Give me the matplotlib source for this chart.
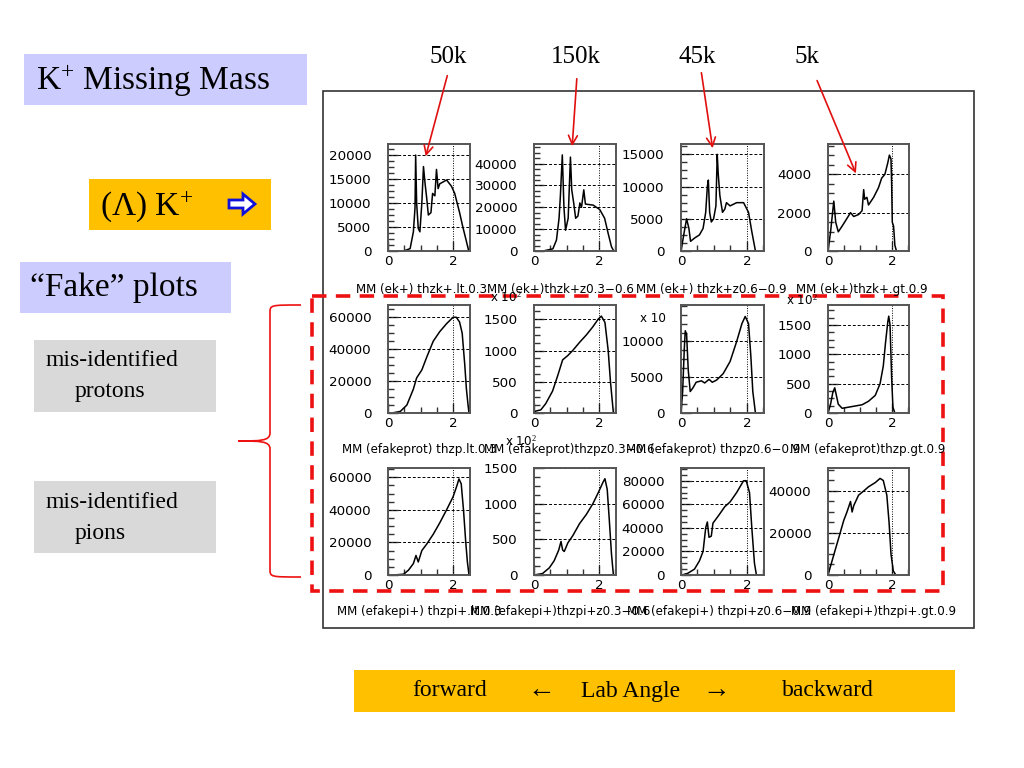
import matplotlib
matplotlib.use("Agg")
import matplotlib.pyplot as plt
from matplotlib.patches import Rectangle, Polygon, PathPatch
from matplotlib.path import Path
from matplotlib.ticker import FixedLocator, AutoMinorLocator, MultipleLocator

plt.rcParams['mathtext.fontset'] = 'custom'
plt.rcParams['mathtext.rm'] = 'Liberation Serif'
plt.rcParams['mathtext.it'] = 'Liberation Serif:italic'

W, H = 1024, 768

# ---------------- data (x = missing mass, y = counts) ----------------
# Row 1: K+ missing mass
r1c1_x = [0.48, 0.68, 0.78, 0.83, 0.85, 0.88, 0.93, 0.98, 1.04, 1.09, 1.14, 1.19, 1.24, 1.32, 1.37, 1.44, 1.49,
          1.54, 1.59, 1.80, 1.95, 2.05, 2.20, 2.30, 2.41, 2.48]
r1c1_y = [0, 500, 4000, 9000, 20000, 10000, 4700, 4000, 10000, 17600, 14000, 11000, 7500, 8000, 12000, 11500, 17000,
          13000, 14000, 14800, 13500, 12000, 8000, 5000, 2000, 0]
r1c2_x = [0.28, 0.58, 0.69, 0.77, 0.81, 0.87, 0.92, 0.97, 1.05, 1.12, 1.16, 1.22, 1.28, 1.35, 1.41, 1.46, 1.53,
          1.58, 1.82, 2.02, 2.17, 2.28, 2.38, 2.45]
r1c2_y = [0, 1000, 5000, 15000, 25000, 44000, 20000, 9500, 15000, 43000, 28000, 22000, 15000, 16000, 22000, 20000,
          28000, 21500, 21000, 19000, 15000, 8000, 2000, 0]
r1c3_x = [0.0, 0.10, 0.17, 0.24, 0.29, 0.41, 0.56, 0.67, 0.75, 0.80, 0.83, 0.87, 0.92, 0.99, 1.06, 1.10, 1.13,
          1.18, 1.26, 1.33, 1.38, 1.49, 1.69, 1.90, 2.05, 2.15, 2.26]
r1c3_y = [0, 3000, 5000, 3500, 1500, 2000, 2500, 3500, 6000, 10000, 11000, 6000, 4500, 5000, 7000, 15000, 12000,
          8600, 6000, 6500, 7500, 7000, 7500, 7500, 6000, 3000, 0]
r1c4_x = [0.0, 0.08, 0.18, 0.24, 0.32, 0.44, 0.59, 0.70, 0.80, 0.95, 1.06, 1.11, 1.14, 1.21, 1.26, 1.42, 1.57,
          1.67, 1.77, 1.86, 1.91, 1.96, 1.98, 2.00, 2.04, 2.08, 2.13]
r1c4_y = [0, 1000, 2600, 1500, 1000, 1300, 1700, 2000, 1800, 1900, 2100, 3200, 2700, 2800, 2400, 2800, 3300,
          3800, 4000, 4600, 5000, 4800, 3500, 1500, 1300, 300, 0]
# Row 2: fake K+ from mis-identified protons
r2c1_x = [0.12, 0.38, 0.58, 0.78, 0.88, 1.04, 1.19, 1.39, 1.59, 1.80, 2.00, 2.10, 2.20, 2.28, 2.36, 2.41, 2.46, 2.49]
r2c1_y = [0, 1000, 5000, 15000, 22000, 27000, 35000, 45000, 51000, 56000, 60000, 60000, 57000, 50000, 30000,
          15000, 5000, 0]
r2c2_x = [0.0, 0.05, 0.21, 0.36, 0.57, 0.73, 0.88, 1.04, 1.19, 1.40, 1.61, 1.81, 1.97, 2.07, 2.18, 2.28, 2.35, 2.44]
r2c2_y = [0, 30, 50, 150, 350, 600, 850, 920, 1000, 1130, 1250, 1380, 1500, 1550, 1450, 1000, 500, 0]
r2c3_x = [0.0, 0.05, 0.10, 0.13, 0.17, 0.22, 0.28, 0.36, 0.46, 0.62, 0.72, 0.85, 0.95, 1.08, 1.28, 1.49, 1.69,
          1.85, 1.95, 2.05, 2.12, 2.18, 2.26]
r2c3_y = [0, 3000, 9000, 11500, 11000, 6000, 3000, 3500, 4300, 4500, 4200, 4700, 4300, 4600, 5500, 7200, 10000,
          12500, 13500, 12500, 8000, 3000, 0]
r2c4_x = [0.0, 0.08, 0.15, 0.21, 0.26, 0.32, 0.44, 0.75, 1.06, 1.26, 1.47, 1.62, 1.72, 1.79, 1.86, 1.89, 1.93,
          1.98, 2.02, 2.08]
r2c4_y = [0, 150, 350, 430, 300, 150, 80, 110, 140, 200, 300, 500, 800, 1200, 1550, 1650, 1500, 600, 100, 0]
# Row 3: fake K+ from mis-identified pions
r3c1_x = [0.17, 0.48, 0.63, 0.78, 0.86, 0.93, 1.04, 1.19, 1.39, 1.59, 1.80, 2.00, 2.12, 2.18, 2.25, 2.32, 2.39,
          2.44, 2.49]
r3c1_y = [0, 500, 3000, 7000, 12000, 8000, 15000, 19000, 25000, 32000, 40000, 48000, 55000, 59000, 56000, 40000,
          20000, 8000, 0]
r3c2_x = [0.0, 0.26, 0.47, 0.62, 0.76, 0.83, 0.88, 0.93, 1.04, 1.19, 1.40, 1.61, 1.81, 1.97, 2.12, 2.18, 2.25,
          2.31, 2.38, 2.44]
r3c2_y = [0, 20, 100, 200, 350, 470, 350, 330, 450, 550, 720, 850, 1000, 1150, 1300, 1350, 1200, 800, 300, 0]
r3c3_x = [0.03, 0.21, 0.41, 0.56, 0.67, 0.75, 0.80, 0.85, 0.92, 0.97, 1.13, 1.33, 1.49, 1.69, 1.90, 1.98, 2.08,
          2.15, 2.23, 2.29]
r3c3_y = [0, 1500, 5000, 12000, 20000, 40000, 45000, 32000, 33000, 44000, 50000, 58000, 62000, 70000, 80000,
          80000, 70000, 40000, 10000, 0]
r3c4_x = [0.0, 0.15, 0.34, 0.49, 0.59, 0.70, 0.75, 0.80, 0.95, 1.11, 1.26, 1.47, 1.62, 1.72, 1.83, 1.90, 1.96,
          2.03, 2.11]
r3c4_y = [0, 8000, 18000, 26000, 30000, 35000, 30000, 33000, 38000, 40000, 42000, 44000, 46000, 45000, 38000,
          25000, 10000, 2000, 0]

panel_x = [[r1c1_x, r1c2_x, r1c3_x, r1c4_x], [r2c1_x, r2c2_x, r2c3_x, r2c4_x], [r3c1_x, r3c2_x, r3c3_x, r3c4_x]]
panel_y = [[r1c1_y, r1c2_y, r1c3_y, r1c4_y], [r2c1_y, r2c2_y, r2c3_y, r2c4_y], [r3c1_y, r3c2_y, r3c3_y, r3c4_y]]

y_ticks = [
    [[0, 5000, 10000, 15000, 20000], [0, 10000, 20000, 30000, 40000], [0, 5000, 10000, 15000], [0, 2000, 4000]],
    [[0, 20000, 40000, 60000], [0, 500, 1000, 1500], [0, 5000, 10000], [0, 500, 1000, 1500]],
    [[0, 20000, 40000, 60000], [0, 500, 1000, 1500], [0, 20000, 40000, 60000, 80000], [0, 20000, 40000]],
]
y_max = [[22300, 49000, 16600, 5580], [67700, 1728, 15100, 1840], [65700, 1500, 90800, 50950]]

row_labels = [
    ["MM (ek+) thzk+.lt.0.3", "MM (ek+)thzk+z0.3\u22120.6", "MM (ek+) thzk+z0.6\u22120.9", "MM (ek+)thzk+.gt.0.9"],
    ["MM (efakeprot) thzp.lt.0.3", "MM (efakeprot)thzpz0.3\u22120.6", "MM (efakeprot) thzpz0.6\u22120.9",
     "MM (efakeprot)thzp.gt.0.9"],
    ["MM (efakepi+) thzpi+.lt.0.3", "MM (efakepi+)thzpi+z0.3\u22120.6", "MM (efakepi+) thzpi+z0.6\u22120.9",
     "MM (efakepi+)thzpi+.gt.0.9"],
]
stat_labels = ["50k", "150k", "45k", "5k"]

# ---------------- layout (pixels) ----------------
col_lr = [(388, 470), (534, 616), (681, 764), (828, 909)]
row_tb = [(144, 251), (305, 413), (468, 575)]
label_y = [289, 449, 612]
label_x = [[356, 487, 636, 796], [342, 484, 626, 790], [337, 470, 627, 791]]

fig = plt.figure(figsize=(W / 100, H / 100), dpi=100)

for r in range(3):
    for c in range(4):
        l, rr = col_lr[c]
        t, b = row_tb[r]
        ax = fig.add_axes([l / W, 1 - b / H, (rr - l) / W, (b - t) / H])
        ax.plot(panel_x[r][c], panel_y[r][c], color='black', lw=1.1)
        ax.set_xlim(0, 2.52)
        ax.set_ylim(0, y_max[r][c])
        ax.yaxis.set_major_locator(FixedLocator(y_ticks[r][c]))
        ax.yaxis.set_minor_locator(AutoMinorLocator(4))
        ax.xaxis.set_major_locator(FixedLocator([0, 2]))
        ax.xaxis.set_minor_locator(MultipleLocator(0.5))
        ax.tick_params(which='both', direction='in', labelsize=9.7, colors='#333333', labelcolor='black')
        ax.tick_params(which='major', length=7, width=1)
        ax.tick_params(which='minor', length=4, width=1)
        ax.tick_params(axis='y', pad=12)
        ax.tick_params(axis='x', pad=3)
        for yv in y_ticks[r][c][1:]:
            ax.axhline(yv, color='black', lw=0.7, ls=(0, (3, 2)))
        ax.axvline(2, color='black', lw=0.7, ls=(0, (1, 1.5)))
        for s in ax.spines.values():
            s.set_color('#555555')
            s.set_linewidth(1.4)

# ---------------- overlay in pixel coordinates ----------------
ov = fig.add_axes([0, 0, 1, 1])
ov.set_xlim(0, W)
ov.set_ylim(H, 0)
ov.axis('off')
ov.set_zorder(10)
ov.patch.set_alpha(0)

# outer frame around the plot area
ov.add_patch(Rectangle((323, 91), 651, 537, fill=False, ec='#333333', lw=1.2))

# panel labels
for r in range(3):
    for c in range(4):
        ov.text(label_x[r][c], label_y[r], row_labels[r][c], fontsize=8.6, ha='left', va='center',
                family='DejaVu Sans')

# scale factor labels
ov.text(490, 297, r"x 10$^2$", fontsize=8.6, ha='left', va='center', family='DejaVu Sans')
ov.text(786, 300, r"x 10$^2$", fontsize=8.6, ha='left', va='center', family='DejaVu Sans')
ov.text(640, 319, "x 10", fontsize=8.6, ha='left', va='center', family='DejaVu Sans')
ov.text(505, 441, r"x 10$^2$", fontsize=8.6, ha='left', va='center', family='DejaVu Sans')

# red dashed rectangle around fake plots
ov.add_patch(Rectangle((312, 296), 631, 295, fill=False, ec='#ee1111', lw=2.6, ls=(0, (4, 2.6))))

# stat labels and arrows
stat_pos = [(448, 57), (576, 57), (697, 57), (807, 57)]
arrow_from = [(448, 73), (577, 76), (701, 70), (816, 78)]
arrow_to = [(425, 159), (572, 149), (713, 151), (857, 176)]
for lab, p, a0, a1 in zip(stat_labels, stat_pos, arrow_from, arrow_to):
    ov.text(p[0], p[1], lab, fontsize=18, ha='center', va='center', family='Liberation Serif')
    ov.annotate('', xy=a1, xytext=a0,
                arrowprops=dict(arrowstyle='->', color='#e01010', lw=1.2, mutation_scale=16))

# left-hand slide boxes
ov.add_patch(Rectangle((24, 54), 283, 51, fc='#ccccff', ec='none'))
ov.text(36, 81, r"K$^{+}$ Missing Mass", fontsize=24, ha='left', va='center', family='Liberation Serif')

ov.add_patch(Rectangle((89, 179), 182, 51, fc='#ffc000', ec='none'))
ov.text(100, 206, r"($\Lambda$) K$^{+}$", fontsize=24, ha='left', va='center', family='Liberation Serif')
ax0, ay0 = 229, 204
arrow_pts = [(ax0, ay0 - 4), (ax0 + 14, ay0 - 4), (ax0 + 14, ay0 - 10), (ax0 + 26, ay0),
             (ax0 + 14, ay0 + 10), (ax0 + 14, ay0 + 4), (ax0, ay0 + 4)]
ov.add_patch(Polygon(arrow_pts, closed=True, fc='#ffffff', ec='#1010dd', lw=2))

ov.add_patch(Rectangle((20, 262), 211, 51, fc='#ccccff', ec='none'))
ov.text(30, 288, "\u201cFake\u201d plots", fontsize=24, ha='left', va='center', family='Liberation Serif')

ov.add_patch(Rectangle((34, 340), 182, 72, fc='#d9d9d9', ec='none'))
ov.text(45, 361, "mis-identified", fontsize=17, ha='left', va='center', family='Liberation Serif')
ov.text(75, 391, "protons", fontsize=17, ha='left', va='center', family='Liberation Serif')

ov.add_patch(Rectangle((34, 481), 182, 72, fc='#d9d9d9', ec='none'))
ov.text(45, 502, "mis-identified", fontsize=17, ha='left', va='center', family='Liberation Serif')
ov.text(75, 533, "pions", fontsize=17, ha='left', va='center', family='Liberation Serif')

# red curly brace
bx_r, bx_m, bx_t = 301, 270, 238
y_top, y_mid, y_bot = 305, 441, 577
verts = [(bx_r, y_top), (bx_m, y_top), (bx_m, y_top), (bx_m, y_top + 8),
         (bx_m, y_mid - 8),
         (bx_m, y_mid), (bx_m - 10, y_mid), (bx_t, y_mid),
         (bx_m - 10, y_mid), (bx_m, y_mid), (bx_m, y_mid + 8),
         (bx_m, y_bot - 8),
         (bx_m, y_bot), (bx_m, y_bot), (bx_r, y_bot)]
codes = [Path.MOVETO, Path.CURVE4, Path.CURVE4, Path.CURVE4,
         Path.LINETO,
         Path.CURVE4, Path.CURVE4, Path.CURVE4,
         Path.CURVE4, Path.CURVE4, Path.CURVE4,
         Path.LINETO,
         Path.CURVE4, Path.CURVE4, Path.CURVE4]
ov.add_patch(PathPatch(Path(verts, codes), fc='none', ec='#ee1111', lw=1.2))

# bottom lab-angle bar
ov.add_patch(Rectangle((354, 670), 601, 42, fc='#ffc000', ec='none'))
for txt, xx, fs in [("forward", 450, 17), ("\u2190", 541, 20), ("Lab Angle", 631, 17), ("\u2192", 716, 20),
                    ("backward", 828, 17)]:
    ov.text(xx, 691, txt, fontsize=fs, ha='center', va='center', family='Liberation Serif')

fig.savefig("out.png", dpi=100)
